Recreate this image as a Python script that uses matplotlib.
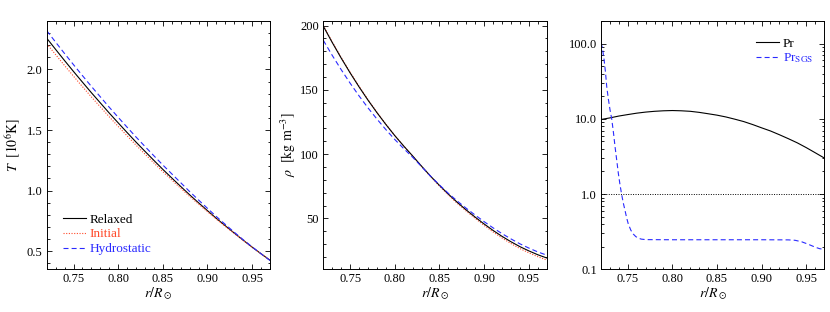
"""
Relaxed / initial / hydrostatic profiles and Prandtl numbers
"""
import numpy as np
import matplotlib
matplotlib.use('Agg')
import matplotlib.pyplot as plt
from matplotlib.ticker import MultipleLocator, FixedLocator, LogLocator, NullFormatter

plt.rcParams['font.family'] = ['Liberation Serif', 'DejaVu Serif']
plt.rcParams['mathtext.fontset'] = 'stix'

# ── data ──────────────────────────────────────────────────────
r = [0.72, 0.73, 0.74, 0.75, 0.76, 0.77, 0.78, 0.79, 0.80, 0.81, 0.82, 0.83, 0.84,
     0.85, 0.86, 0.87, 0.88, 0.89, 0.90, 0.91, 0.92, 0.93, 0.94, 0.95, 0.96, 0.97]

T_relaxed = [2.258, 2.165, 2.073, 1.983, 1.895, 1.808, 1.724, 1.640, 1.559, 1.479,
             1.400, 1.324, 1.249, 1.175, 1.104, 1.034, 0.965, 0.899, 0.834, 0.770,
             0.709, 0.649, 0.590, 0.533, 0.478, 0.425]
T_initial = [2.213, 2.122, 2.032, 1.944, 1.858, 1.773, 1.691, 1.609, 1.530, 1.452,
             1.375, 1.301, 1.228, 1.156, 1.087, 1.019, 0.952, 0.888, 0.825, 0.763,
             0.704, 0.646, 0.588, 0.532, 0.478, 0.425]
T_hydro = [2.320, 2.225, 2.131, 2.039, 1.949, 1.860, 1.774, 1.688, 1.605, 1.523,
           1.442, 1.364, 1.287, 1.211, 1.138, 1.065, 0.992, 0.922, 0.853, 0.785,
           0.720, 0.656, 0.594, 0.535, 0.478, 0.423]

rho_relaxed = [199.5, 186.8, 174.7, 163.2, 152.3, 142.0, 132.3, 123.1, 114.4, 106.3,
               98.6, 90.6, 82.9, 75.7, 68.9, 62.5, 56.6, 51.0, 45.7, 40.7,
               36.1, 31.9, 28.1, 24.8, 21.8, 19.3]
rho_initial = [200.0, 187.3, 175.2, 163.7, 152.8, 142.4, 132.6, 123.3, 114.5, 106.3,
               98.5, 90.4, 82.6, 75.2, 68.2, 61.7, 55.7, 50.0, 44.6, 39.5,
               34.8, 30.5, 26.6, 23.3, 20.3, 17.7]
rho_hydro = [188.5, 176.8, 165.7, 155.2, 145.3, 136.0, 127.3, 119.1, 111.4, 104.3,
             97.6, 90.3, 82.9, 76.0, 69.5, 63.5, 57.9, 52.6, 47.5, 42.7,
             38.2, 34.1, 30.3, 27.0, 24.0, 21.5]

Pr = [9.8, 10.3, 10.9, 11.4, 11.9, 12.3, 12.6, 12.8, 12.9, 12.8, 12.6, 12.2, 11.7,
      11.2, 10.6, 9.9, 9.2, 8.4, 7.6, 6.9, 6.15, 5.45, 4.8, 4.15, 3.55, 3.03]

r_sgs = [0.7200, 0.7215, 0.7234, 0.7250, 0.7264, 0.7282, 0.7301, 0.7320, 0.7340,
         0.7357, 0.7375, 0.7394, 0.7413, 0.7432, 0.7450, 0.7470, 0.7488, 0.7506,
         0.7535, 0.7562, 0.7590, 0.7618, 0.7650, 0.7700, 0.8000, 0.8500, 0.9000,
         0.9300, 0.9375, 0.9450, 0.9524, 0.9600, 0.9650, 0.9700]
Pr_sgs = [103, 88, 62, 42, 27, 18.5, 13.2, 10.0, 6.5,
          4.3, 2.9, 1.9, 1.33, 0.98, 0.76, 0.60, 0.48, 0.40,
          0.33, 0.294, 0.272, 0.260, 0.252, 0.248, 0.247, 0.247, 0.247,
          0.246, 0.243, 0.232, 0.215, 0.197, 0.188, 0.184]

RED = '#ff4a2a'
BLUE = '#2a2aff'
LW = 0.8
DASH = (4.5, 2.8)
DOT = (1.0, 1.4)
TICK_FS = 9
LABEL_FS = 10

fig = plt.figure(figsize=(8.3, 3.12), dpi=100)
ax1 = fig.add_axes([0.0563, 0.1369, 0.2690, 0.7958])
ax2 = fig.add_axes([0.3895, 0.1369, 0.2692, 0.7958])
ax3 = fig.add_axes([0.7241, 0.1369, 0.2687, 0.7958])


def style(ax):
    ax.tick_params(which='both', direction='in', top=True, right=True,
                   labelsize=TICK_FS, width=0.6, pad=3)
    ax.tick_params(which='major', length=3.5)
    ax.tick_params(which='minor', length=1.8)
    for s in ax.spines.values():
        s.set_linewidth(0.7)
    ax.set_xlim(0.72, 0.97)
    ax.xaxis.set_major_locator(FixedLocator([0.75, 0.80, 0.85, 0.90, 0.95]))
    ax.xaxis.set_minor_locator(MultipleLocator(0.01))
    ax.set_xticklabels(['0.75', '0.80', '0.85', '0.90', '0.95'])
    ax.set_xlabel(r'$r/R_\odot$', fontsize=LABEL_FS, labelpad=0)


# ── (1) temperature ───────────────────────────────────────────
ax = ax1
ax.plot(r, T_relaxed, color='k', lw=LW, label='Relaxed')
ax.plot(r, T_initial, color=RED, lw=LW, dashes=DOT, label='Initial')
ax.plot(r, T_hydro, color=BLUE, lw=LW, dashes=DASH, label='Hydrostatic')
style(ax)
ax.set_ylim(0.35, 2.40)
ax.yaxis.set_major_locator(FixedLocator([0.5, 1.0, 1.5, 2.0]))
ax.yaxis.set_minor_locator(MultipleLocator(0.1))
ax.set_yticklabels(['0.5', '1.0', '1.5', '2.0'])
ax.set_ylabel(r'$T\ \ [10^6{\rm K}]$', fontsize=LABEL_FS, labelpad=3)
ax.legend(loc='lower left', bbox_to_anchor=(0.05, 0.035), frameon=False,
          fontsize=9.5, handlelength=1.7, handletextpad=0.3, labelspacing=0.2,
          labelcolor=['k', RED, BLUE], borderaxespad=0)

# ── (2) density ───────────────────────────────────────────────
ax = ax2
ax.plot(r, rho_initial, color=RED, lw=LW, dashes=DOT)
ax.plot(r, rho_relaxed, color='k', lw=LW)
ax.plot(r, rho_hydro, color=BLUE, lw=LW, dashes=DASH)
style(ax)
ax.set_ylim(10.5, 203.5)
ax.yaxis.set_major_locator(FixedLocator([50, 100, 150, 200]))
ax.yaxis.set_minor_locator(MultipleLocator(10))
ax.set_yticklabels(['50', '100', '150', '200'])
ax.set_ylabel(r'$\rho\ \ [{\rm kg\ m^{-3}}]$', fontsize=LABEL_FS, labelpad=2)

# ── (3) Prandtl numbers ───────────────────────────────────────
ax = ax3
ax.set_yscale('log')
ax.plot(r, Pr, color='k', lw=LW, label='Pr')
ax.plot(r_sgs, Pr_sgs, color=BLUE, lw=LW, dashes=DASH, label=r'Pr$_{\rm SGS}$')
ax.axhline(1.0, color='k', lw=0.7, dashes=(1.0, 1.5))
style(ax)
ax.set_ylim(0.1, 200)
ax.yaxis.set_major_locator(FixedLocator([0.1, 1, 10, 100]))
ax.yaxis.set_minor_locator(LogLocator(base=10, subs=np.arange(2, 10)))
ax.yaxis.set_minor_formatter(NullFormatter())
ax.set_yticklabels(['0.1', '1.0', '10.0', '100.0'])
ax.legend(loc='upper right', bbox_to_anchor=(0.975, 0.955), frameon=False,
          fontsize=9.5, handlelength=1.7, handletextpad=0.3, labelspacing=0.15,
          labelcolor=['k', BLUE], borderaxespad=0)

plt.savefig('out.png', dpi=100)
plt.close()
